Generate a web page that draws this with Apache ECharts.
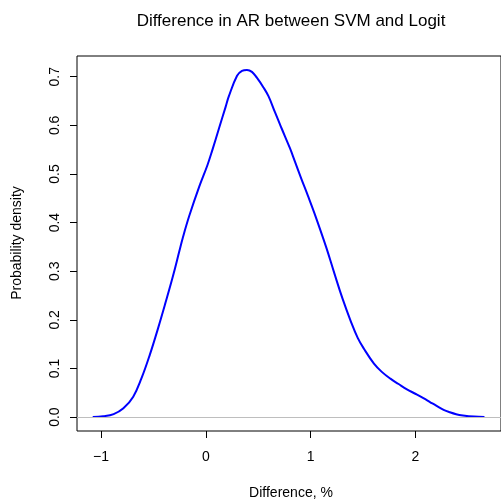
<!DOCTYPE html>
<html>
<head>
<meta charset="utf-8">
<script src="https://cdn.jsdelivr.net/npm/echarts@6/dist/echarts.min.js"></script>
<style>
html,body{margin:0;padding:0;background:#fff;}
#chart{width:501px;height:501px;}
</style>
</head>
<body>
<div id="chart"></div>
<script>
const titleText = "Difference in AR between SVM and Logit";
const xTitle = "Difference, %";
const yTitle = "Probability density";
const xTicks = [-1, 0, 1, 2];
const yTicks = [0, 0.1, 0.2, 0.3, 0.4, 0.5, 0.6, 0.7];
const diffX = [-1.08, -0.98, -0.88, -0.787, -0.693, -0.614, -0.535, -0.457, -0.384, -0.315, -0.252, -0.221, -0.158, -0.063, 0.015, 0.062, 0.126, 0.189, 0.22, 0.298, 0.345, 0.393, 0.44, 0.487, 0.55, 0.598, 0.66, 0.723, 0.803, 0.85, 0.912, 0.975, 1.039, 1.148, 1.228, 1.306, 1.384, 1.45, 1.511, 1.605, 1.68, 1.762, 1.84, 1.92, 2.0, 2.077, 2.14, 2.203, 2.27, 2.329, 2.39, 2.455, 2.56, 2.66];
const density = [0, 0.0015, 0.006, 0.018, 0.042, 0.080, 0.128, 0.182, 0.236, 0.289, 0.342, 0.368, 0.414, 0.474, 0.518, 0.549, 0.594, 0.638, 0.660, 0.702, 0.712, 0.714, 0.710, 0.698, 0.678, 0.660, 0.627, 0.594, 0.553, 0.526, 0.490, 0.455, 0.418, 0.350, 0.295, 0.243, 0.197, 0.163, 0.140, 0.110, 0.093, 0.079, 0.068, 0.057, 0.048, 0.039, 0.031, 0.023, 0.015, 0.010, 0.006, 0.0035, 0.001, 0];

const chart = echarts.init(document.getElementById('chart'));
const font = "'Liberation Sans', Arial, sans-serif";
chart.setOption({
  animation: false,
  grid: {left: 77, top: 56, right: -4, bottom: 70, show: true, borderColor: '#000', borderWidth: 1, backgroundColor: 'transparent'},
  xAxis: {
    type: 'value', min: -1.23, max: 2.818,
    splitLine: {show: false},
    axisLine: {show: false, onZero: false},
    axisTick: {show: true, inside: false, length: 7, customValues: xTicks, lineStyle: {color: '#000', width: 1}},
    axisLabel: {customValues: xTicks, margin: 19, color: '#000', fontSize: 14, fontFamily: font,
      formatter: v => (v < 0 ? '\u2212' + Math.abs(v) : String(v))}
  },
  yAxis: {
    type: 'value', min: -0.0286, max: 0.7426,
    splitLine: {show: false},
    axisLine: {show: false, onZero: false},
    axisTick: {show: true, inside: false, length: 7, customValues: yTicks, lineStyle: {color: '#000', width: 1}},
    axisLabel: {customValues: yTicks, rotate: 90, margin: 15, color: '#000', fontSize: 14, fontFamily: font,
      formatter: v => v.toFixed(1)}
  },
  series: [{
    type: 'line',
    data: diffX.map((x, i) => [x, density[i]]),
    smooth: 0.4,
    showSymbol: false,
    lineStyle: {color: '#0000ff', width: 2},
    markLine: {silent: true, symbol: 'none', label: {show: false},
      lineStyle: {color: '#bebebe', type: 'solid', width: 1},
      data: [{yAxis: 0}]},
    z: 3
  }],
  graphic: [
    {type: 'text', style: {text: titleText, x: 291, y: 21, font: '17px ' + font, fill: '#000', textAlign: 'center', textVerticalAlign: 'middle'}},
    {type: 'text', style: {text: xTitle, x: 291, y: 493, font: '14px ' + font, fill: '#000', textAlign: 'center', textVerticalAlign: 'middle'}},
    {type: 'text', x: 17, y: 243, rotation: Math.PI / 2, style: {text: yTitle, x: 0, y: 0, font: '14px ' + font, fill: '#000', textAlign: 'center', textVerticalAlign: 'middle'}}
  ]
});
</script>
</body>
</html>
